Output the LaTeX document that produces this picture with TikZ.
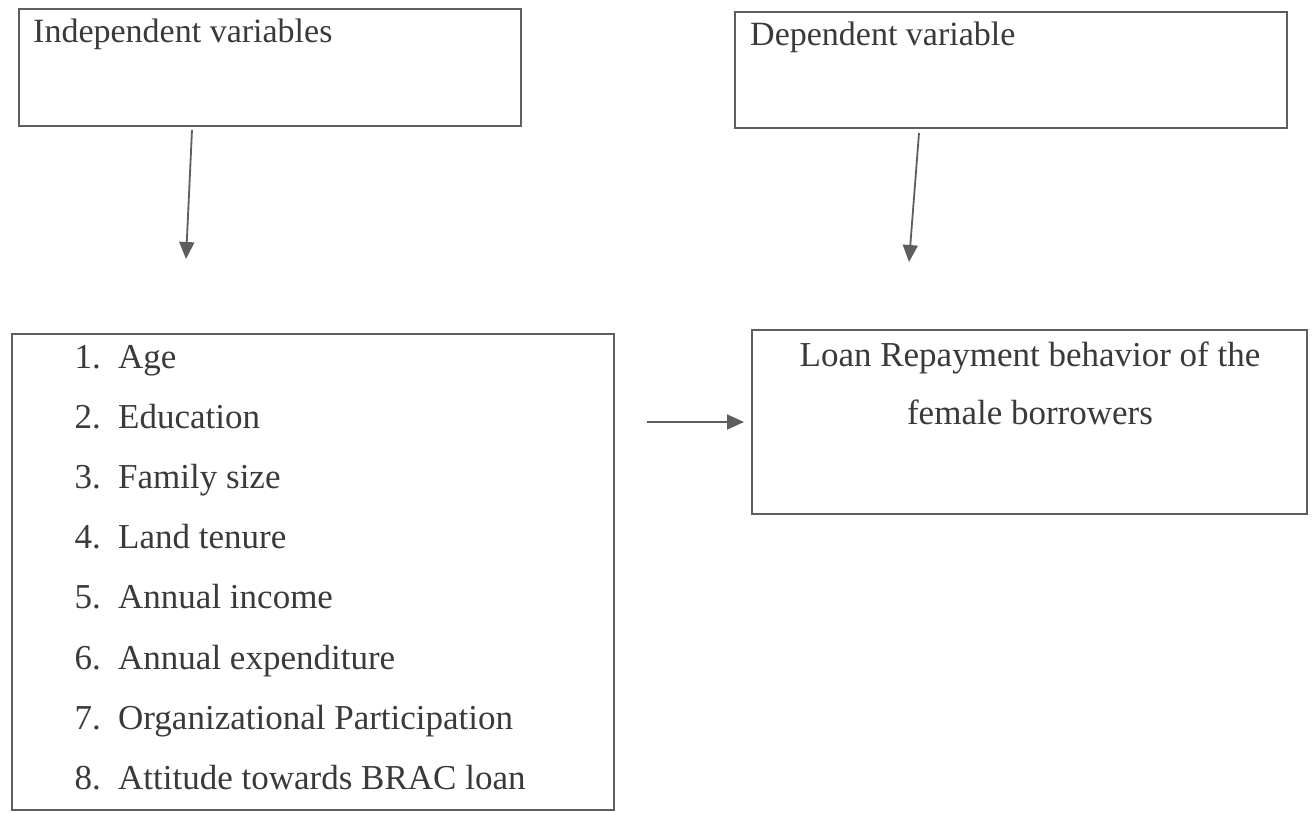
\documentclass[tikz,border=0pt]{standalone}
\usepackage{fontspec}
\setmainfont{Liberation Serif}
\usetikzlibrary{arrows.meta,calc}
\definecolor{linegray}{HTML}{5E5E5E}
\definecolor{textgray}{HTML}{3A3A3A}
\tikzset{
  box/.style={draw=linegray, line width=1.5pt, inner sep=0pt, outer sep=0pt, anchor=north west},
  txt/.style={text=textgray, font=\fontsize{35}{42}\selectfont, inner sep=0pt, anchor=base west},
  hdr/.style={text=textgray, font=\fontsize{34}{42}\selectfont, inner sep=0pt, anchor=base west},
  num/.style={text=textgray, font=\fontsize{35}{42}\selectfont, inner sep=0pt, anchor=base east},
  ctr/.style={text=textgray, font=\fontsize{35}{42}\selectfont, inner sep=0pt, anchor=base},
  arr/.style={draw=linegray, line width=1.8pt, -{Triangle[length=17pt,width=15pt]}}
}
\begin{document}
\begin{tikzpicture}[x=1pt,y=-1pt]
\useasboundingbox[fill=white] (0,0) rectangle (1312,812);
% boxes
\node[box, minimum width=502pt, minimum height=117pt] (b1) at (19,9) {};
\node[box, minimum width=552pt, minimum height=116pt] (b2) at (735,12) {};
\node[box, minimum width=602pt, minimum height=476pt] (b3) at (12,334) {};
\node[box, minimum width=555pt, minimum height=184pt] (b4) at (752,330) {};
% headers
\node[hdr] (h1) at (33,42) {Independent variables};
\node[hdr] (h2) at (750,45) {Dependent variable};
% list
\foreach \i/\t [count=\k from 0] in {1/Age,2/Education,3/Family size,4/Land tenure,5/Annual income,6/Annual expenditure,7/Organizational Participation,8/Attitude towards BRAC loan}{
  \node[num] (n\i) at (101,368+60.2*\k) {\i.};
  \node[txt] (l\i) at (118,368+60.2*\k) {\t};
}
% dependent text
\node[ctr] (d1) at (1030,366) {Loan Repayment behavior of the};
\node[ctr] (d2) at (1030,424) {female borrowers};
% arrows
\coordinate (a1s) at ($(b1.south west)+(173,4)$);
\coordinate (a1e) at (186,259);
\coordinate (a2s) at ($(b2.south west)+(184,5)$);
\coordinate (a2e) at (909,262);
\coordinate (a3s) at ($(b3.north east)+(33,88)$);
\coordinate (a3e) at ($(b4.north west)+(-8,92)$);
\draw[arr] (a1s) -- (a1e);
\draw[arr] (a2s) -- (a2e);
\draw[arr] (a3s) -- (a3e);
\end{tikzpicture}
\end{document}
